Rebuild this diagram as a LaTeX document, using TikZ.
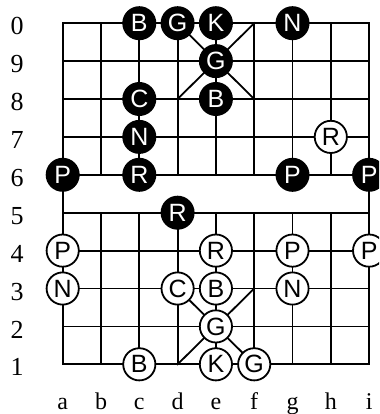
\documentclass[tikz,border=0pt]{standalone}
\usepackage{fontspec}
\setmainfont{Liberation Serif}
\newfontfamily\piecefont{Liberation Sans}
\begin{document}
\begin{tikzpicture}[x=38.3pt,y=37.9pt,
  gridline/.style={line width=1.8pt,line cap=rect},
  blackpc/.style={circle,fill=black,text=white,minimum size=34pt,inner sep=0pt,font=\piecefont\fontsize{25pt}{25pt}\selectfont},
  whitepc/.style={circle,draw=black,fill=white,text=black,line width=1.8pt,minimum size=32.2pt,inner sep=0pt,font=\piecefont\fontsize{25pt}{25pt}\selectfont},
  rowlbl/.style={font=\fontsize{26pt}{26pt}\selectfont,inner sep=0pt},
  collbl/.style={font=\fontsize{24pt}{24pt}\selectfont,inner sep=0pt,anchor=base}]
\useasboundingbox (-1.637,-1.311) rectangle (8.259,9.612);
\clip (-1.637,-1.311) rectangle (8.259,9.612);
% grid
\foreach \r in {0,...,9} \draw[gridline] (0,\r) -- (8,\r);
\draw[gridline] (0,0) -- (0,9);
\draw[gridline] (8,0) -- (8,9);
\foreach \c in {1,...,7} {
  \draw[gridline] (\c,0) -- (\c,4);
  \draw[gridline] (\c,5) -- (\c,9);
}
% palaces
\draw[gridline] (3,0) -- (5,2);
\draw[gridline] (5,0) -- (3,2);
\draw[gridline] (3,7) -- (5,9);
\draw[gridline] (5,7) -- (3,9);
% labels
\foreach \n [count=\i from 0] in {1,2,3,4,5,6,7,8,9,0}
  \node[rowlbl] (row\n) at (-1.19,\i-0.08) {\n};
\foreach \l [count=\i from 0] in {a,b,c,d,e,f,g,h,i}
  \node[collbl] (col\l) at (\i,-1.19) {\l};
% black pieces
\node[blackpc] (bBc0) at (2,9) {B};
\node[blackpc] (bGd0) at (3,9) {G};
\node[blackpc] (bKe0) at (4,9) {K};
\node[blackpc] (bNg0) at (6,9) {N};
\node[blackpc] (bGe9) at (4,8) {G};
\node[blackpc] (bCc8) at (2,7) {C};
\node[blackpc] (bBe8) at (4,7) {B};
\node[blackpc] (bNc7) at (2,6) {N};
\node[blackpc] (bPa6) at (0,5) {P};
\node[blackpc] (bRc6) at (2,5) {R};
\node[blackpc] (bPg6) at (6,5) {P};
\node[blackpc] (bPi6) at (8,5) {P};
\node[blackpc] (bRd5) at (3,4) {R};
% white pieces
\node[whitepc] (wRh7) at (7,6) {R};
\node[whitepc] (wPa4) at (0,3) {P};
\node[whitepc] (wRe4) at (4,3) {R};
\node[whitepc] (wPg4) at (6,3) {P};
\node[whitepc] (wPi4) at (8,3) {P};
\node[whitepc] (wNa3) at (0,2) {N};
\node[whitepc] (wCd3) at (3,2) {C};
\node[whitepc] (wBe3) at (4,2) {B};
\node[whitepc] (wNg3) at (6,2) {N};
\node[whitepc] (wGe2) at (4,1) {G};
\node[whitepc] (wBc1) at (2,0) {B};
\node[whitepc] (wKe1) at (4,0) {K};
\node[whitepc] (wGf1) at (5,0) {G};
\end{tikzpicture}
\end{document}
